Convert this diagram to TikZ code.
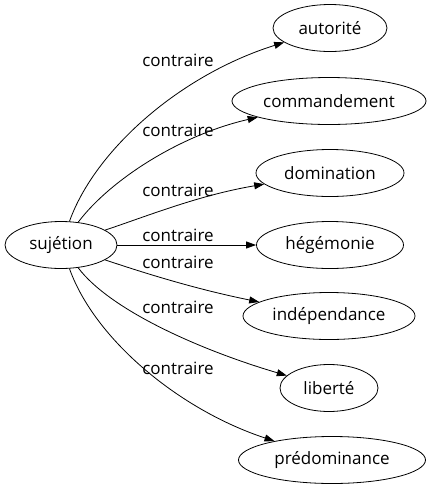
\documentclass[tikz,border=0pt]{standalone}
\usepackage{fontspec}
\setmainfont{Open Sans}
\usetikzlibrary{shapes.geometric}
\usetikzlibrary{arrows.meta}

\tikzset{
  mot/.style={draw,ellipse,line width=0.8pt,inner xsep=0pt,minimum height=47pt,font=\fontsize{17}{19}\selectfont},
  lien/.style={line width=0.8pt,-{Triangle[length=10pt,width=7pt]}},
  lbl/.style={font=\fontsize{17}{19}\selectfont,inner sep=0pt}
}

\begin{document}
\begin{tikzpicture}[x=1pt,y=-1pt]
\useasboundingbox (0,0) rectangle (432,491);

\node[mot,minimum width=112pt] (s) at (61,245) {sujétion};

\node[mot,minimum width=114pt] (a) at (330,28) {autorité};
\node[mot,minimum width=194pt] (c) at (329,101) {commandement};
\node[mot,minimum width=148pt] (d) at (330,173) {domination};
\node[mot,minimum width=147pt] (h) at (330,245) {hégémonie};
\node[mot,minimum width=172pt] (i) at (329,316) {indépendance};
\node[mot,minimum width=98pt] (l) at (329,388) {liberté};
\node[mot,minimum width=187pt] (p) at (332,460) {prédominance};

% les liens
\draw[lien] (s) .. controls (95,150) and (180,75) .. (a);
\draw[lien] (s) .. controls (110,180) and (180,135) .. (c);
\draw[lien] (s) .. controls (150,215) and (200,195) .. (d);
\draw[lien] (s) -- (h);
\draw[lien] (s) .. controls (150,275) and (200,290) .. (i);
\draw[lien] (s) .. controls (110,310) and (200,350) .. (l);
\draw[lien] (s) .. controls (95,340) and (180,410) .. (p);

\node[lbl] (la) at (178,60) {contraire};
\node[lbl] (lc) at (178,130) {contraire};
\node[lbl] (ld) at (178,190) {contraire};
\node[lbl] (lh) at (178,235) {contraire};
\node[lbl] (li) at (178,262) {contraire};
\node[lbl] (ll) at (178,307) {contraire};
\node[lbl] (lp) at (178,368) {contraire};

\end{tikzpicture}
\end{document}
